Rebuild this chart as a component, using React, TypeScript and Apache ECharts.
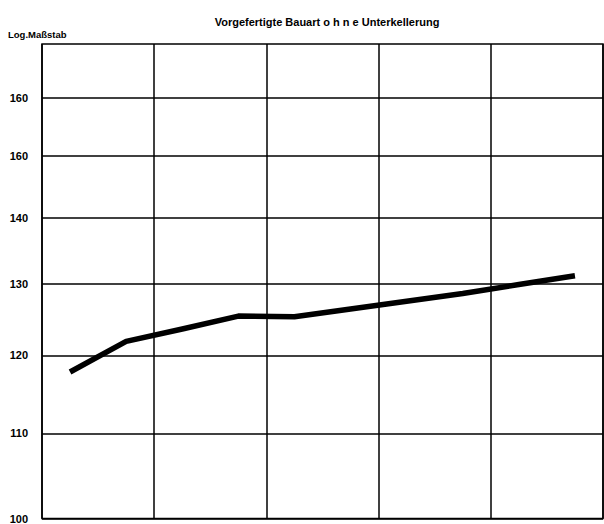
import React, { useEffect, useRef } from "react";
import * as echarts from "echarts";

const periods = ["1", "2", "3", "4", "5", "6", "7", "8", "9", "10"];
const indexValues = [117.8, 121.9, 123.6, 125.4, 125.3, 126.4, 127.5, 128.6, 129.9, 131.2];
const tickValues = [100, 110, 120, 130, 140, 150, 160];
const tickLabels = ["100", "110", "120", "130", "140", "160", "160"];
const titleText = "Vorgefertigte Bauart o h n e Unterkellerung";
const axisName = "Log.Maßstab";

export default function App() {
  const ref = useRef<HTMLDivElement>(null);
  useEffect(() => {
    if (!ref.current) return;
    const chart = echarts.init(ref.current, null, { renderer: "svg" });
    const font = "'Liberation Sans', Arial, sans-serif";
    chart.setOption({
      animation: false,
      backgroundColor: "#ffffff",
      textStyle: { fontFamily: font },
      title: {
        text: titleText,
        left: 322,
        top: 11,
        textAlign: "center",
        textStyle: { fontSize: 11, fontWeight: "bold", color: "#000", fontFamily: font },
      },
      graphic: [
        {
          type: "text",
          left: 8,
          top: 29,
          style: { text: axisName, font: `bold 9.5px ${font}`, fill: "#000" },
        },
      ],
      grid: {
        left: 42,
        right: 1,
        top: 44,
        bottom: 5,
        show: true,
        borderColor: "#000",
        borderWidth: 1.5,
        backgroundColor: "transparent",
      },
      xAxis: {
        type: "category",
        data: periods,
        boundaryGap: true,
        axisLine: { show: false },
        axisTick: { show: false },
        axisLabel: { show: false },
        splitLine: { show: true, interval: 1, lineStyle: { color: "#000", width: 1.5 } },
      },
      yAxis: {
        type: "log",
        logBase: 10,
        min: 100,
        max: 170,
        axisLine: { show: false },
        axisTick: { show: false, customValues: tickValues },
        axisLabel: {
          customValues: tickValues,
          margin: 14,
          fontSize: 11,
          fontWeight: "bold",
          color: "#000",
          fontFamily: font,
          formatter: (v: number) => {
            const i = tickValues.findIndex((t) => Math.abs(t - v) < 0.5);
            return i >= 0 ? tickLabels[i] : "";
          },
        },
        splitLine: { show: true, lineStyle: { color: "#000", width: 1.5 } },
      },
      series: [
        {
          type: "line",
          data: indexValues,
          showSymbol: false,
          symbol: "none",
          lineStyle: { color: "#000", width: 5.5, cap: "butt", join: "round" },
        },
      ],
    });
    return () => chart.dispose();
  }, []);
  return (
    <div
      ref={ref}
      style={{ position: "absolute", left: 0, top: 0, width: 604, height: 524 }}
    />
  );
}
